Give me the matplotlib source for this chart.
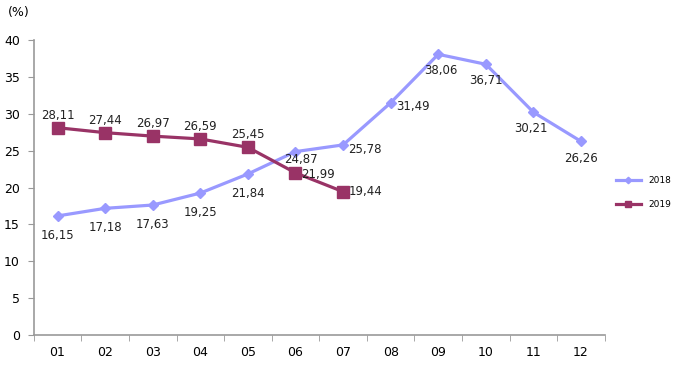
import matplotlib
matplotlib.use("Agg")
import matplotlib.pyplot as plt
import numpy as np

months = ["01", "02", "03", "04", "05", "06", "07", "08", "09", "10", "11", "12"]
y2018 = [16.15, 17.18, 17.63, 19.25, 21.84, 24.87, 25.78, 31.49, 38.06, 36.71, 30.21, 26.26]
y2019 = [28.11, 27.44, 26.97, 26.59, 25.45, 21.99, 19.44]

# label offsets (points) for each data label
off2018 = [(0, -14), (0, -14), (0, -14), (0, -14), (0, -14), (4, -6), (16, -3),
           (16, -3), (2, -12), (0, -12), (-2, -12), (0, -12)]
off2019 = [(0, 9), (0, 9), (0, 9), (0, 9), (0, 9), (16, -1), (16, 0)]

def fmt(v):
    return ("%.2f" % v).replace(".", ",")

fig = plt.figure(figsize=(6.75, 3.67), dpi=100)
ax = fig.add_axes([0.05, 0.087, 0.846, 0.804])

x = np.arange(len(months))
ax.plot(x, y2018, color="#9999FF", lw=2.3, marker="D", ms=5.5, label="2018")
ax.plot(x[:len(y2019)], y2019, color="#993366", lw=2.3, marker="s", ms=8, label="2019")

for xi, v, o in zip(x, y2018, off2018):
    ax.annotate(fmt(v), (xi, v), xytext=o, textcoords="offset points",
                ha="center", va="center", fontsize=8.5, color="#222222")
for xi, v, o in zip(x, y2019, off2019):
    ax.annotate(fmt(v), (xi, v), xytext=o, textcoords="offset points",
                ha="center", va="center", fontsize=8.5, color="#222222")

ax.set_xlim(-0.5, 11.5)
ax.set_ylim(0, 40)
ax.set_yticks(range(0, 41, 5))
ax.set_xticks(x)
ax.set_xticklabels(months)
ax.set_xticks(np.arange(-0.5, 12, 1), minor=True)
ax.tick_params(axis="x", which="major", length=0, pad=8, labelsize=9)
ax.tick_params(axis="x", which="minor", length=4, color="#999999", direction="out")
ax.tick_params(axis="y", length=4, color="#999999", labelsize=9, pad=6)

for s in ["top", "right"]:
    ax.spines[s].set_visible(False)
for s in ["left", "bottom"]:
    ax.spines[s].set_color("#999999")
    ax.spines[s].set_linewidth(1.2)

fig.text(0.012, 0.965, "(%)", fontsize=9, ha="left", va="center")

leg = fig.legend(loc="center left", bbox_to_anchor=(0.9, 0.475), frameon=False,
                 fontsize=6.5, markerscale=0.6, handlelength=2.8, labelspacing=1.6)

fig.savefig("out.png", dpi=100)
